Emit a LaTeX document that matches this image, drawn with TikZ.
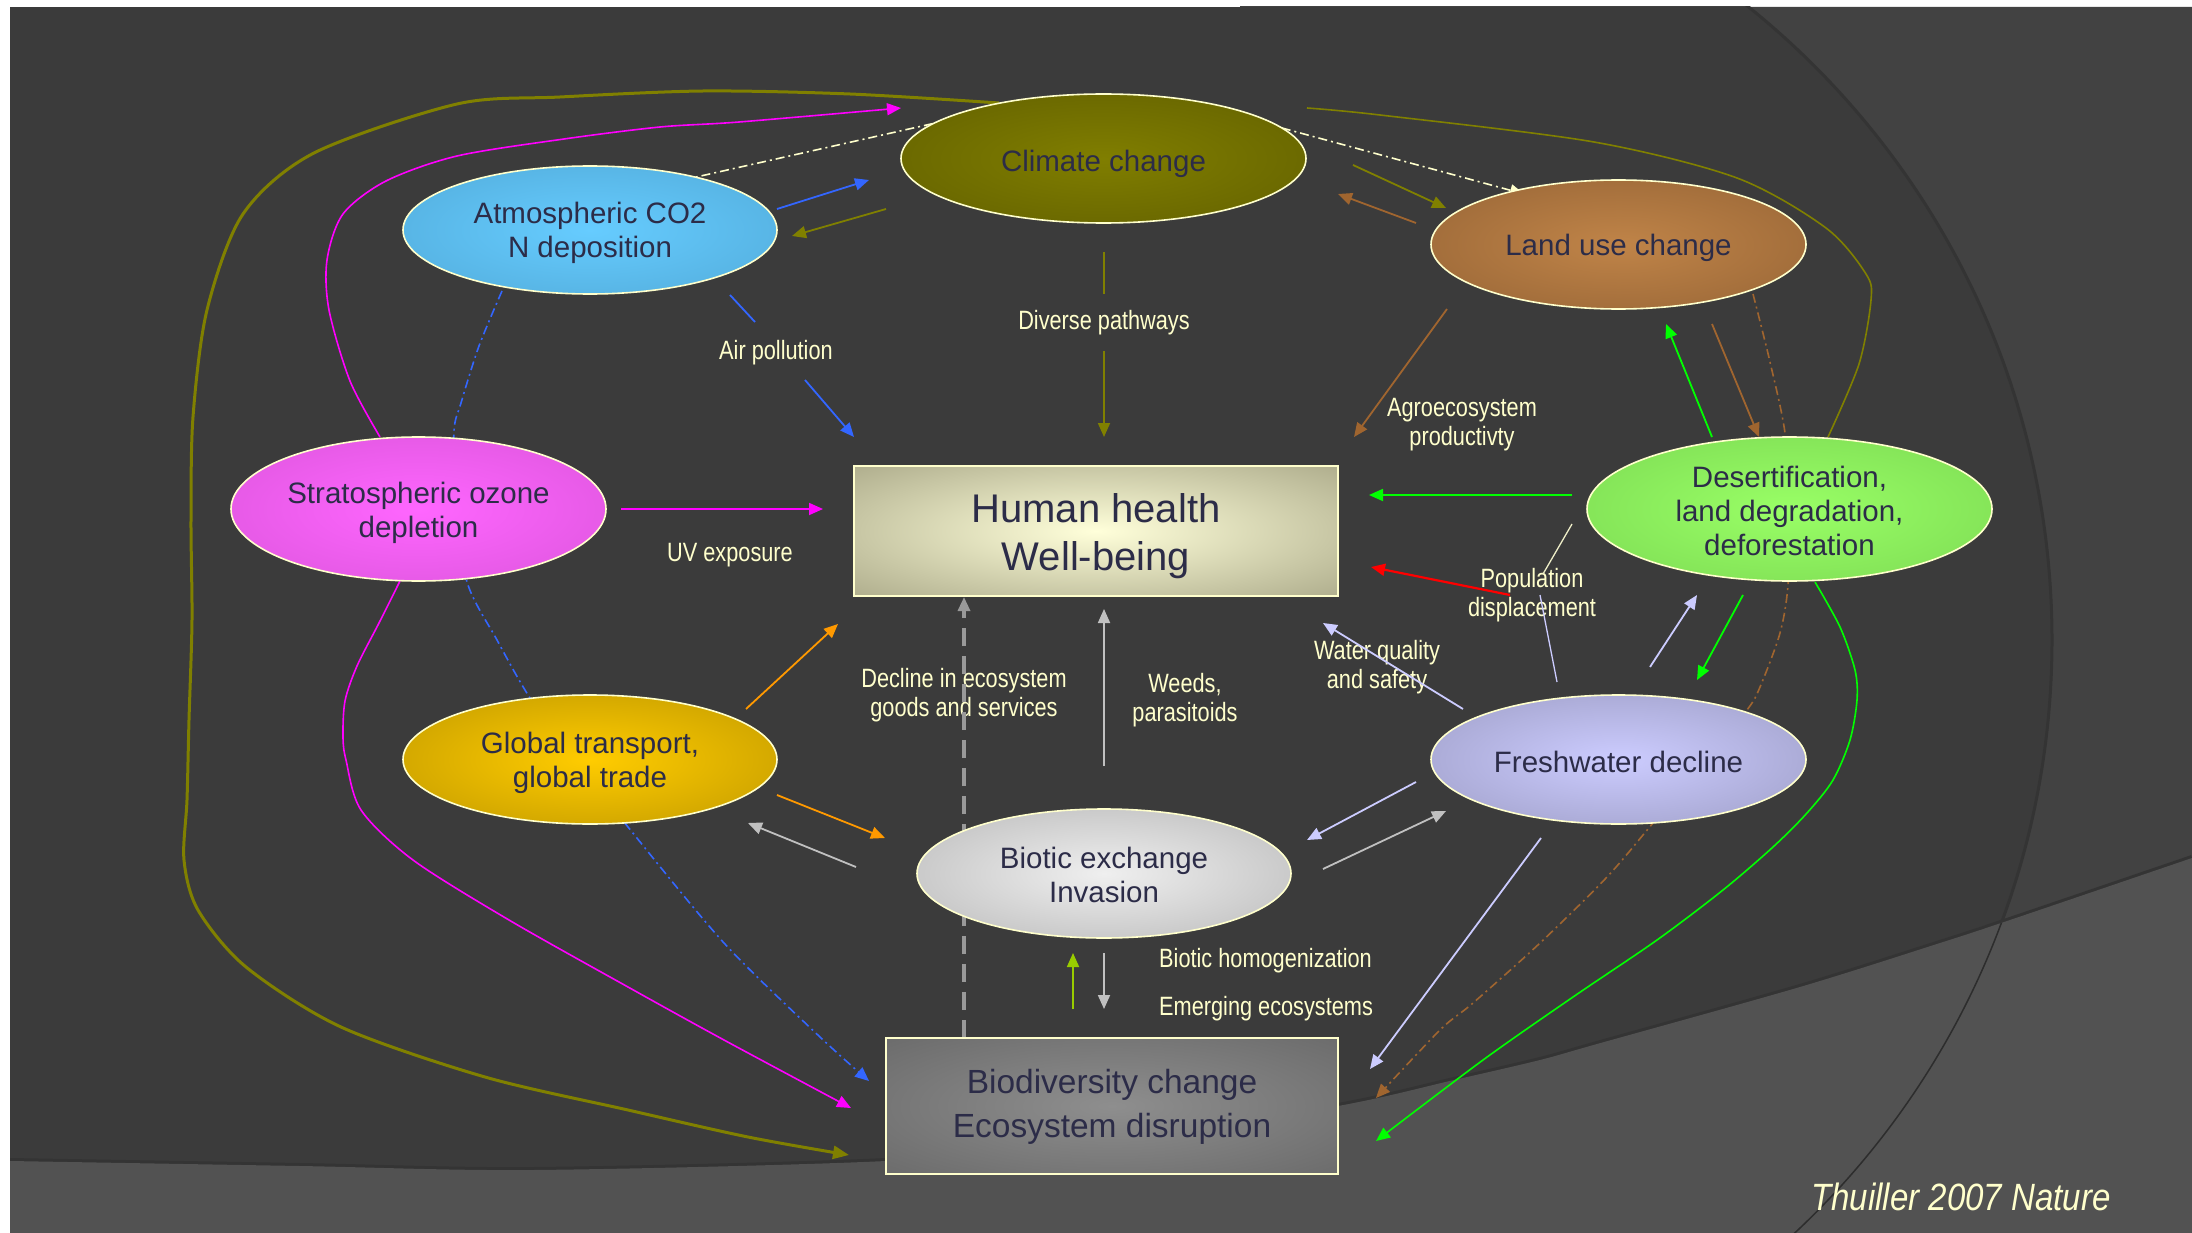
\documentclass[tikz,border=0pt]{standalone}
\usepackage{fontspec}
\setmainfont{Liberation Sans}
\newfontfamily\narrowfont[FakeStretch=0.82]{Liberation Sans}
\newfontfamily\citefont[FakeStretch=0.87]{Liberation Sans}
\usetikzlibrary{shapes.geometric,arrows.meta}

% palette
\definecolor{bgdark}{HTML}{3B3B3B}
\definecolor{bgright}{HTML}{424242}
\definecolor{bgbottom}{HTML}{525252}
\definecolor{edgeshadow}{HTML}{343434}
\definecolor{cream}{HTML}{FFFFCC}
\definecolor{ink}{HTML}{2C2C48}
\definecolor{cOlive}{HTML}{808000}
\definecolor{cBlue}{HTML}{3366FF}
\definecolor{cMag}{HTML}{FF00FF}
\definecolor{cOrange}{HTML}{FF9900}
\definecolor{cBrown}{HTML}{A0652F}
\definecolor{cGreen}{HTML}{00FF00}
\definecolor{cLav}{HTML}{CCCCFF}
\definecolor{cGrayA}{HTML}{C0C0C0}
\definecolor{cGrayB}{HTML}{999999}
\definecolor{cLime}{HTML}{99CC00}
\definecolor{cRed}{HTML}{FF0000}
\definecolor{cThin}{HTML}{EEEEC8}
% node fills: centre / rim
\definecolor{ccIn}{HTML}{807E00}     \definecolor{ccOut}{HTML}{575500}
\definecolor{coIn}{HTML}{66CCFF}     \definecolor{coOut}{HTML}{4A9FCC}
\definecolor{luIn}{HTML}{C08448}     \definecolor{luOut}{HTML}{87592F}
\definecolor{ozIn}{HTML}{FF66FF}     \definecolor{ozOut}{HTML}{CF4FCF}
\definecolor{deIn}{HTML}{99FF66}     \definecolor{deOut}{HTML}{72CC4C}
\definecolor{gtIn}{HTML}{FFCC00}     \definecolor{gtOut}{HTML}{A98600}
\definecolor{fwIn}{HTML}{CCCCFF}     \definecolor{fwOut}{HTML}{8C8CB0}
\definecolor{beIn}{HTML}{EFEFEF}     \definecolor{beOut}{HTML}{A5A5A5}
\definecolor{hhIn}{HTML}{FFFFDA}     \definecolor{hhOut}{HTML}{8F8D6E}
\definecolor{bdIn}{HTML}{8E8E8E}     \definecolor{bdOut}{HTML}{5E5E5E}

% centre-to-edge glow used by every node
\colorlet{glowin}{white}
\colorlet{glowout}{black}
\pgfdeclareradialshading[glowin,glowout]{glow}{\pgfpoint{0bp}{0bp}}%
  {color(0bp)=(glowin); color(50bp)=(glowout); color(100bp)=(glowout)}

\tikzset{
  ovalnode/.style 2 args={ellipse, draw=cream, line width=1.6pt, inner sep=0pt,
    shade, shading=glow, /utils/exec={\colorlet{glowin}{#1}\colorlet{glowout}{#2}},
    text=ink, font=\fontsize{29.5}{34}\selectfont, align=center},
  boxnode/.style 2 args={rectangle, draw=cream, line width=1.8pt, inner sep=0pt,
    shade, shading=glow, /utils/exec={\colorlet{glowin}{#1}\colorlet{glowout}{#2}},
    text=ink, align=center},
  lbl/.style={text=cream, font=\narrowfont\fontsize{26.5}{29}\selectfont,
    align=center, inner sep=0pt},
  arr/.style={line width=1.8pt, -{Triangle[length=14pt,width=12pt]}},
  bare/.style={line width=1.8pt},
  ddline/.style={line width=1.6pt, dash pattern=on 9pt off 4pt on 2pt off 4pt},
  headed/.style={-{Triangle[length=14pt,width=12pt]}},
}

\begin{document}
\begin{tikzpicture}[x=1pt,y=-1pt]
\useasboundingbox (0,0) rectangle (2192,1233);

% ---------- backdrop ----------
\fill[white] (0,0) rectangle (2192,1233);
\fill[bgdark] (10,7) rectangle (2192,1233);
\begin{scope}
  % lighter band right of the large arc
  \clip (1240,7) rectangle (2192,1233);
  \fill[bgright, even odd rule] (1240,7) rectangle (2192,1233)
        (1240,640) circle[radius=812pt];
  \draw[edgeshadow, line width=3pt] (1240,640) circle[radius=812pt];
\end{scope}
\begin{scope}
  \clip (10,7) rectangle (2192,1233);
  \draw[edgeshadow, line width=6pt] plot[smooth] coordinates {(10,1161) (300,1166)
        (533,1170) (886,1161) (1110,1142) (1338,1106) (1454,1080) (1540,1060)
        (1597,1044) (1800,987) (1940,943) (2007,921) (2192,858)};
  \fill[bgbottom] plot[smooth] coordinates {(10,1161) (300,1166) (533,1170)
        (886,1161) (1110,1142) (1338,1106) (1454,1080) (1540,1060) (1597,1044)
        (1800,987) (1940,943) (2007,921) (2192,858)} -- (2192,1233) -- (10,1233) -- cycle;
  \clip plot[smooth] coordinates {(10,1161) (300,1166) (533,1170) (886,1161)
        (1110,1142) (1338,1106) (1454,1080) (1540,1060) (1597,1044) (1800,987)
        (1940,943) (2007,921) (2192,858)} -- (2192,1233) -- (10,1233) -- cycle;
  \clip (1240,7) rectangle (2192,1233);
  \draw[black!45!bgbottom, line width=1.5pt] (1240,640) circle[radius=812pt];
\end{scope}

% ---------- connector end points ----------
\coordinate (aCCs) at (777,209);  \coordinate (aCCe) at (869,180);
\coordinate (cCAs) at (886,209);  \coordinate (cCAe) at (792,236);
\coordinate (apA) at (730,295);   \coordinate (apB) at (755,322);
\coordinate (apC) at (805,380);   \coordinate (apD) at (854,437);
\coordinate (dpA) at (1104,252);  \coordinate (dpB) at (1104,294);
\coordinate (dpC) at (1104,351);  \coordinate (dpD) at (1104,437);
\coordinate (wdA) at (683,180);   \coordinate (wdB) at (931,124);
\coordinate (wdC) at (1282,128);  \coordinate (wdD) at (1524,194);
\coordinate (clA) at (1353,165);  \coordinate (clB) at (1446,208);
\coordinate (lcA) at (1416,223);  \coordinate (lcB) at (1338,194);
\coordinate (lhA) at (1447,309);  \coordinate (lhB) at (1354,437);
\coordinate (odA) at (1307,108);  \coordinate (odB) at (1828,437);
\coordinate (obA) at (999,103);   \coordinate (obB) at (849,1155);
\coordinate (mtA) at (380,437);   \coordinate (mtB) at (901,108);
\coordinate (mbA) at (400,581);   \coordinate (mbB) at (851,1108);
\coordinate (ohA) at (621,509);   \coordinate (ohB) at (823,509);
\coordinate (bdA) at (502,291);   \coordinate (bdB) at (869,1081);
\coordinate (gtA) at (746,709);   \coordinate (gtB) at (838,624);
\coordinate (gbA) at (777,795);   \coordinate (gbB) at (885,838);
\coordinate (bgA) at (856,867);   \coordinate (bgB) at (748,823);
\coordinate (dsA) at (964,1038);  \coordinate (dsB) at (964,597);
\coordinate (wpA) at (1104,766);  \coordinate (wpB) at (1104,609);
\coordinate (upA) at (1073,1009); \coordinate (upB) at (1073,953);
\coordinate (dnA) at (1104,953);  \coordinate (dnB) at (1104,1009);
\coordinate (fbA) at (1416,782);  \coordinate (fbB) at (1307,840);
\coordinate (bfA) at (1323,869);  \coordinate (bfB) at (1446,811);
\coordinate (fhA) at (1463,709);  \coordinate (fhB) at (1323,623);
\coordinate (fdA) at (1650,667);  \coordinate (fdB) at (1697,595);
\coordinate (dfA) at (1743,595);  \coordinate (dfB) at (1697,680);
\coordinate (dlA) at (1712,437);  \coordinate (dlB) at (1666,324);
\coordinate (ldA) at (1712,324);  \coordinate (ldB) at (1759,437);
\coordinate (bbA) at (1753,294);  \coordinate (bbB) at (1376,1098);
\coordinate (fvA) at (1541,838);  \coordinate (fvB) at (1370,1069);
\coordinate (gcA) at (1815,582);  \coordinate (gcB) at (1376,1141);
\coordinate (dhA) at (1572,495);  \coordinate (dhB) at (1369,495);
\coordinate (rdA) at (1510,595);  \coordinate (rdB) at (1371,567);
\coordinate (pcA) at (1572,524);  \coordinate (pcB) at (1543,574);
\coordinate (plA) at (1540,595);  \coordinate (plB) at (1557,682);

% ---------- labels (base = last line) ----------
\node[lbl, anchor=base] (lAir)  at (776,359)  {Air pollution};
\node[lbl, anchor=base] (lDiv)  at (1104,330) {Diverse pathways};
\node[lbl, anchor=base] (lUV)   at (730,561)  {UV exposure};
\node[lbl, anchor=base] (lAgro) at (1462,445) {Agroecosystem\\productivty};
\node[lbl, anchor=base] (lPop)  at (1532,616) {Population\\displacement};
\node[lbl, anchor=base] (lWat)  at (1377,688) {Water quality\\and safety};
\node[lbl, anchor=base] (lDec)  at (964,716)  {Decline in ecosystem\\goods and services};
\node[lbl, anchor=base] (lWeed) at (1185,721) {Weeds,\\parasitoids};
\node[lbl, anchor=base west] (lHom) at (1159,967)  {Biotic homogenization};
\node[lbl, anchor=base west] (lEme) at (1159,1015) {Emerging ecosystems};
\node[lbl, anchor=base west, font=\citefont\itshape\fontsize{38}{42}\selectfont]
      (cite) at (1811,1210) {Thuiller 2007 Nature};

% ---------- connectors ----------
% Atmospheric CO2 <-> Climate change
\draw[arr, cBlue]  (aCCs) -- (aCCe);
\draw[arr, cOlive] (cCAs) -- (cCAe);
% Air pollution
\draw[bare, cBlue] (apA) -- (apB);
\draw[arr, cBlue]  (apC) -- (apD);
% Diverse pathways
\draw[bare, cOlive] (dpA) -- (dpB);
\draw[arr, cOlive]  (dpC) -- (dpD);
% CO2 -> Land use, passing behind Climate change
\draw[ddline, cream, headed] (wdA) -- (wdB) .. controls (1040,100) and (1180,100) .. (wdC) -- (wdD);
% Climate change <-> Land use change
\draw[arr, cOlive] (clA) -- (clB);
\draw[arr, cBrown] (lcA) -- (lcB);
% Agroecosystem productivity
\draw[arr, cBrown] (lhA) -- (lhB);
% Climate change -> Desertification (outer right curve)
\draw[cOlive, line width=1.6pt] plot[smooth] coordinates {(odA) (1380,115) (1594,142)
      (1737,178) (1826,228) (1866,274) (1871,300) (1859,364) (odB)};
% Climate change -> Biodiversity (outer left curve)
\draw[cOlive, line width=3pt, -{Triangle[length=16pt,width=13pt]}] plot[smooth]
      coordinates {(obA) (850,94) (703,91) (560,97) (457,104) (314,153) (243,214)
      (207,310) (193,417) (191,520) (192,620) (189,720) (187,800) (184,860)
      (198,910) (246,967) (341,1027) (485,1077) (628,1110) (748,1137) (obB)};
% Ozone -> Climate change
\draw[cMag, line width=1.6pt, headed] plot[smooth] coordinates {(mtA) (350,381)
      (329,310) (327,260) (343,214) (386,181) (457,156) (564,139) (660,127)
      (739,122) (mtB)};
% Ozone -> Biodiversity
\draw[cMag, line width=1.6pt, headed] plot[smooth] coordinates {(mbA) (379,623)
      (357,666) (345,701) (343,737) (346,760) (361,810) (413,860) (509,920)
      (628,987) (724,1040) (mbB)};
% UV exposure
\draw[arr, cMag] (ohA) -- (ohB);
% CO2 -> Biodiversity, behind ozone and transport
\draw[cBlue, ddline, headed] plot[smooth] coordinates {(bdA) (479,346) (461,403)
      (454,431) (455,500) (467,582) (497,640) (530,698) (575,760) (628,827)
      (724,943) (820,1037) (bdB)};
% Global transport
\draw[arr, cOrange] (gtA) -- (gtB);
\draw[arr, cOrange] (gbA) -- (gbB);
\draw[arr, cGrayA]  (bgA) -- (bgB);
% Decline in ecosystem goods and services
\draw[cGrayB, line width=3.2pt, dash pattern=on 18pt off 10pt,
      -{Triangle[length=14pt,width=12pt]}] (dsA) -- (dsB);
% Weeds, parasitoids
\draw[arr, cGrayA] (wpA) -- (wpB);
% Biotic exchange <-> Biodiversity
\draw[arr, cLime]  (upA) -- (upB);
\draw[arr, cGrayA] (dnA) -- (dnB);
% Freshwater <-> Biotic exchange
\draw[arr, cLav]   (fbA) -- (fbB);
\draw[arr, cGrayA] (bfA) -- (bfB);
% Water quality and safety
\draw[arr, cLav] (fhA) -- (fhB);
% Freshwater <-> Desertification
\draw[arr, cLav]   (fdA) -- (fdB);
\draw[arr, cGreen] (dfA) -- (dfB);
% Desertification <-> Land use change
\draw[arr, cGreen] (dlA) -- (dlB);
\draw[arr, cBrown] (ldA) -- (ldB);
% Land use -> Biodiversity, behind desertification and freshwater
\draw[cBrown, ddline, headed] plot[smooth] coordinates {(bbA) (1770,362) (1785,433)
      (1790,510) (1788,585) (1780,633) (1760,687) (1747,710) (1700,768) (1653,823)
      (1607,877) (1540,943) (1473,1003) (1440,1030) (bbB)};
% Freshwater -> Biodiversity
\draw[arr, cLav] (fvA) -- (fvB);
% Desertification -> Biodiversity
\draw[cGreen, line width=1.6pt, headed] plot[smooth] coordinates {(gcA) (1840,627)
      (1855,670) (1857,700) (1850,740) (1833,780) (1807,813) (1773,847) (1723,890)
      (1657,940) (1573,997) (1483,1060) (gcB)};
% Desertification -> Human health
\draw[arr, cGreen] (dhA) -- (dhB);
% Population displacement
\draw[arr, cRed, line width=2.2pt] (rdA) -- (rdB);
\draw[cThin, line width=1.3pt] (pcA) -- (pcB);
\draw[cLav, line width=1.3pt] (plA) -- (plB);

% ---------- nodes ----------
\node[ovalnode={ccIn}{ccOut}, minimum width=405pt, minimum height=129pt,
      text height=27pt, text depth=0pt] (cc) at (1103.5,158.5) {Climate change};
\node[ovalnode={coIn}{coOut}, minimum width=374pt, minimum height=128pt,
      text height=56pt, text depth=0pt] (co2) at (590,230) {Atmospheric CO2\\N deposition};
\node[ovalnode={luIn}{luOut}, minimum width=375pt, minimum height=129pt,
      text height=23pt, text depth=0pt] (land) at (1618.5,244.5) {Land use change};
\node[ovalnode={ozIn}{ozOut}, minimum width=375pt, minimum height=144pt,
      text height=56pt, text depth=0pt] (ozone) at (418.5,509) {Stratospheric ozone\\depletion};
\node[ovalnode={deIn}{deOut}, minimum width=405pt, minimum height=144pt,
      text height=92pt, text depth=0pt] (desert) at (1789.5,509)
      {Desertification,\\land degradation,\\deforestation};
\node[ovalnode={gtIn}{gtOut}, minimum width=374pt, minimum height=129pt,
      text height=55pt, text depth=0pt] (trade) at (590,759.5) {Global transport,\\global trade};
\node[ovalnode={fwIn}{fwOut}, minimum width=375pt, minimum height=129pt,
      text height=25pt, text depth=0pt] (fresh) at (1618.5,759.5) {Freshwater decline};
\node[ovalnode={beIn}{beOut}, minimum width=374pt, minimum height=129pt,
      text height=57pt, text depth=0pt] (biotic) at (1104,873.5) {Biotic exchange\\Invasion};
\node[boxnode={hhIn}{hhOut}, minimum width=484pt, minimum height=130pt,
      font=\fontsize{40}{48}\selectfont, text height=78pt, text depth=0pt]
      (health) at (1096,531) {Human health\\Well-being};
\node[boxnode={bdIn}{bdOut}, minimum width=452pt, minimum height=136pt,
      font=\fontsize{33.5}{44}\selectfont, text height=62pt, text depth=0pt]
      (biodiv) at (1112,1106) {Biodiversity change\\Ecosystem disruption};
\end{tikzpicture}
\end{document}
